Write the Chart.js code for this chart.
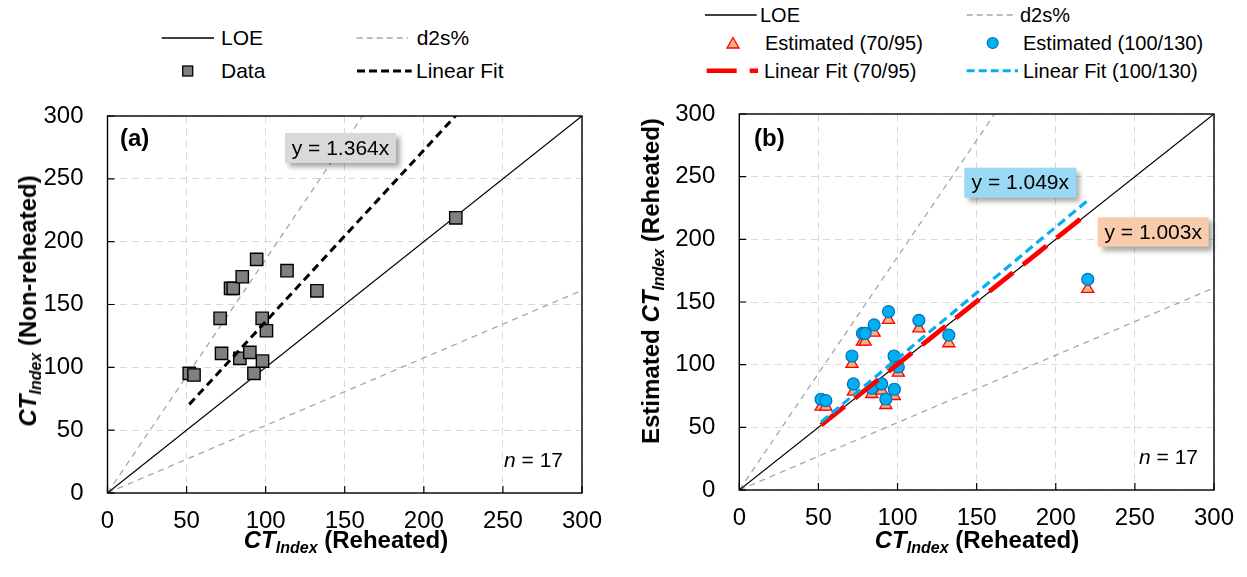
<!DOCTYPE html>
<html>
<head>
<meta charset="utf-8">
<script src="https://cdn.jsdelivr.net/npm/chart.js@4.4.0/dist/chart.umd.min.js"></script>
<style>
  body { margin: 0; background: #fff; width: 1247px; height: 577px; position: relative; overflow: hidden;
         font-family: Arial, "Liberation Sans", sans-serif; color: #000; }
  canvas { position: absolute; }
  #legendSvg { position: absolute; left: 0; top: 0; }
  .lg { position: absolute; font-size: 21px; line-height: 24px; transform: translateY(-50%); white-space: nowrap; }
  .lg.b { font-size: 20px; }
  .ttl { position: absolute; font-size: 24px; font-weight: bold; white-space: nowrap; line-height: 28px;
         transform: translate(-50%, -50%); }
  .ttl sub { font-size: 16px; line-height: 0; vertical-align: -5px; }
  .ttl.rot { transform: translate(-50%, -50%) rotate(-90deg); }
</style>
</head>
<body>

<!-- legends -->
<svg id="legendSvg" width="1247" height="100">
  <!-- (a) -->
  <line x1="161.7" y1="38" x2="214" y2="38" stroke="#000" stroke-width="1.3"/>
  <line x1="356.7" y1="38" x2="408" y2="38" stroke="#a6a6a6" stroke-width="1.3" stroke-dasharray="6,4"/>
  <rect x="182.7" y="66" width="10" height="10" fill="#808080" stroke="#000" stroke-width="1.3"/>
  <line x1="357" y1="71" x2="411.7" y2="71" stroke="#000" stroke-width="3" stroke-dasharray="8,4"/>
  <!-- (b) -->
  <line x1="705" y1="15" x2="756.7" y2="15" stroke="#000" stroke-width="1.3"/>
  <line x1="966.7" y1="15" x2="1013" y2="15" stroke="#a6a6a6" stroke-width="1.3" stroke-dasharray="6,4"/>
  <polygon points="733,37.5 739,48 727,48" fill="#f4b183" stroke="#ff0000" stroke-width="1.3"/>
  <circle cx="992.7" cy="43" r="5.5" fill="#00b0f0" stroke="#0070c0" stroke-width="1.2"/>
  <line x1="706.7" y1="70.7" x2="758" y2="70.7" stroke="#ff0000" stroke-width="4.5" stroke-dasharray="30,13"/>
  <line x1="966.7" y1="70.7" x2="1018" y2="70.7" stroke="#00b0f0" stroke-width="3" stroke-dasharray="8,4"/>
</svg>
<div class="lg" style="left:221px;top:38px">LOE</div>
<div class="lg" style="left:416.7px;top:38px">d2s%</div>
<div class="lg" style="left:221px;top:71px">Data</div>
<div class="lg" style="left:416px;top:71px">Linear Fit</div>
<div class="lg b" style="left:760px;top:15px">LOE</div>
<div class="lg b" style="left:1020px;top:15px">d2s%</div>
<div class="lg b" style="left:765px;top:43px">Estimated (70/95)</div>
<div class="lg b" style="left:1023px;top:43px">Estimated (100/130)</div>
<div class="lg b" style="left:764px;top:70.7px">Linear Fit (70/95)</div>
<div class="lg b" style="left:1023px;top:70.7px">Linear Fit (100/130)</div>

<canvas id="chartA" width="624" height="466" style="left:0px;top:74px"></canvas>
<canvas id="chartB" width="626" height="466" style="left:630px;top:72px"></canvas>

<!-- axis titles -->
<div class="ttl" style="left:346px;top:540px"><i>CT<sub>Index</sub></i> (Reheated)</div>
<div class="ttl rot" style="left:28px;top:301px"><i>CT<sub>Index</sub></i> (Non-reheated)</div>
<div class="ttl" style="left:977px;top:540px"><i>CT<sub>Index</sub></i> (Reheated)</div>
<div class="ttl rot" style="left:651px;top:281px">Estimated <i>CT<sub>Index</sub></i> (Reheated)</div>

<script>
// data
const reheated    = [51.7, 54.7, 71.2, 72.1, 77.8, 79.5, 85.2, 83.7, 90.0, 94.3, 92.6, 97.8, 98.0, 100.5, 113.5, 132.4, 220.2];
const nonReheated = [95.2, 93.9, 139.0, 111.1, 162.8, 162.8, 172.1, 107.2, 111.9, 185.9, 95.2, 139.0, 105.0, 129.1, 176.9, 160.9, 219.0];
const est70_95    = [66.5, 66.5, 100.6, 78.5, 118.4, 118.4, 125.5, 76.6, 79.3, 135.7, 67.8, 101.0, 75.0, 93.6, 129.0, 117.1, 160.4];
const est100_130  = [72.4, 71.3, 106.9, 84.6, 125.0, 125.0, 131.7, 81.2, 84.6, 142.3, 72.6, 106.9, 80.4, 98.2, 135.4, 123.6, 168.1];

const slopeA = 1.364;
const slope70 = 1.003;
const slope100 = 1.049;
const d2sFactor = 1.86;
const axisTicks = [0, 50, 100, 150, 200, 250, 300];
const axisMax = 300;

function pts(xs, ys) {
  return xs.map((x, i) => ({ x: x, y: ys[i] }));
}

const xMin = Math.min(...reheated);
const xMax = Math.max(...reheated);

function fitLine(m) {
  return [{ x: xMin, y: m * xMin }, { x: xMax, y: m * xMax }];
}

const loe = [{ x: 0, y: 0 }, { x: axisMax, y: axisMax }];
const d2sUpper = [{ x: 0, y: 0 }, { x: axisMax / d2sFactor, y: axisMax }];
const d2sLower = [{ x: 0, y: 0 }, { x: axisMax, y: axisMax / d2sFactor }];

function lineSet(data, color, width, dash) {
  return {
    data: data, showLine: true, fill: false, pointRadius: 0,
    borderColor: color, borderWidth: width, borderDash: dash || []
  };
}

function makeScales(yWidth, xHeight) {
  const common = {
    type: 'linear', min: 0, max: axisMax,
    afterBuildTicks: s => { s.ticks = axisTicks.map(v => ({ value: v })); },
    grid: { color: '#d9d9d9', lineWidth: 1, drawTicks: false },
    border: { display: false, dash: [7, 5] },
    ticks: { color: '#000', font: { family: 'Arial', size: 24 } }
  };
  return {
    x: Object.assign({}, common, {
      ticks: Object.assign({}, common.ticks, { padding: 14 }),
      afterFit: s => { s.height = xHeight; }
    }),
    y: Object.assign({}, common, {
      ticks: Object.assign({}, common.ticks, { padding: 24 }),
      afterFit: s => { s.width = yWidth; }
    })
  };
}

// frame, inside tick marks and text notes
const framePlugin = {
  id: 'frame',
  afterDatasetsDraw(chart, args, opts) {
    const ctx = chart.ctx;
    const ca = chart.chartArea;
    const xs = chart.scales.x, ys = chart.scales.y;
    ctx.save();
    ctx.strokeStyle = '#000';
    ctx.lineWidth = 1.4;
    ctx.strokeRect(ca.left, ca.top, ca.right - ca.left, ca.bottom - ca.top);
    ctx.lineWidth = 1.2;
    axisTicks.forEach(v => {
      const px = xs.getPixelForValue(v);
      const py = ys.getPixelForValue(v);
      ctx.beginPath();
      ctx.moveTo(px, ca.bottom); ctx.lineTo(px, ca.bottom - 7);
      ctx.moveTo(ca.left, py); ctx.lineTo(ca.left + 7, py);
      ctx.stroke();
    });

    // panel letter
    ctx.fillStyle = '#000';
    ctx.font = 'bold 24px Arial';
    ctx.textBaseline = 'middle';
    ctx.textAlign = 'left';
    ctx.fillText(opts.letter, ca.left + opts.letterDx, ca.top + opts.letterDy);

    // n = 17
    ctx.font = 'italic 21px Arial';
    const nW = ctx.measureText('n').width;
    ctx.font = '21px Arial';
    const restW = ctx.measureText(' = 17').width;
    const nx = ca.right - opts.nRight - nW - restW;
    const ny = ca.bottom - opts.nBottom;
    ctx.font = 'italic 21px Arial';
    ctx.fillText('n', nx, ny);
    ctx.font = '21px Arial';
    ctx.fillText(' = 17', nx + nW, ny);

    // equation boxes
    opts.boxes.forEach(b => {
      const bx = ca.left + b.dx, by = ca.top + b.dy;
      ctx.save();
      ctx.shadowColor = 'rgba(0,0,0,0.35)';
      ctx.shadowBlur = 5;
      ctx.shadowOffsetX = 4;
      ctx.shadowOffsetY = 4;
      ctx.fillStyle = b.fill;
      ctx.fillRect(bx, by, b.w, b.h);
      ctx.restore();
      ctx.fillStyle = '#000';
      ctx.font = '21px Arial';
      ctx.textAlign = 'center';
      ctx.textBaseline = 'middle';
      ctx.fillText(b.text, bx + b.w / 2, by + b.h / 2 + 1);
    });
    ctx.restore();
  }
};

const baseOptions = {
  responsive: false,
  animation: false,
  events: [],
  plugins: { legend: { display: false }, tooltip: { enabled: false } }
};

// Panel (a)
new Chart(document.getElementById('chartA'), {
  type: 'scatter',
  data: {
    datasets: [
      lineSet(fitLine(slopeA), '#000', 3, [8, 5]),
      {
        data: pts(reheated, nonReheated),
        pointStyle: 'rect', pointRadius: 8.7,
        backgroundColor: '#808080', borderColor: '#000', borderWidth: 1.4
      },
      lineSet(loe, '#000', 1.2),
      lineSet(d2sUpper, '#a6a6a6', 1.3, [6, 5]),
      lineSet(d2sLower, '#a6a6a6', 1.3, [6, 5])
    ]
  },
  options: Object.assign({}, baseOptions, {
    layout: { padding: { top: 42, right: 42, left: 0, bottom: 0 } },
    scales: makeScales(107.5, 47),
    plugins: Object.assign({}, baseOptions.plugins, {
      frame: {
        letter: '(a)', letterDx: 12.5, letterDy: 23,
        nRight: 19, nBottom: 32,
        boxes: [{ text: 'y = 1.364x', fill: '#d9d9d9', dx: 177.5, dy: 17, w: 111, h: 30 }]
      }
    })
  }),
  plugins: [framePlugin]
});

// Panel (b)
new Chart(document.getElementById('chartB'), {
  type: 'scatter',
  data: {
    datasets: [
      lineSet(fitLine(slope100), '#00b0f0', 3.2, [9, 5]),
      lineSet(fitLine(slope70), '#ff0000', 4.8, [30, 13]),
      {
        data: pts(reheated, est100_130),
        pointStyle: 'circle', pointRadius: 6,
        backgroundColor: '#00b0f0', borderColor: '#0070c0', borderWidth: 1.2
      },
      {
        data: pts(reheated, est70_95),
        pointStyle: 'triangle', pointRadius: 7,
        backgroundColor: '#f4b183', borderColor: '#ff0000', borderWidth: 1.3
      },
      lineSet(loe, '#000', 1.2),
      lineSet(d2sUpper, '#a6a6a6', 1.3, [6, 5]),
      lineSet(d2sLower, '#a6a6a6', 1.3, [6, 5])
    ]
  },
  options: Object.assign({}, baseOptions, {
    layout: { padding: { top: 42, right: 42, left: 0, bottom: 0 } },
    scales: makeScales(109.3, 48),
    plugins: Object.assign({}, baseOptions.plugins, {
      frame: {
        letter: '(b)', letterDx: 14.7, letterDy: 25,
        nRight: 16, nBottom: 32,
        boxes: [
          { text: 'y = 1.049x', fill: '#9ad8f4', dx: 225, dy: 53.7, w: 112, h: 30 },
          { text: 'y = 1.003x', fill: '#f8cbad', dx: 358.4, dy: 103.3, w: 111, h: 29.4 }
        ]
      }
    })
  }),
  plugins: [framePlugin]
});
</script>
</body>
</html>
